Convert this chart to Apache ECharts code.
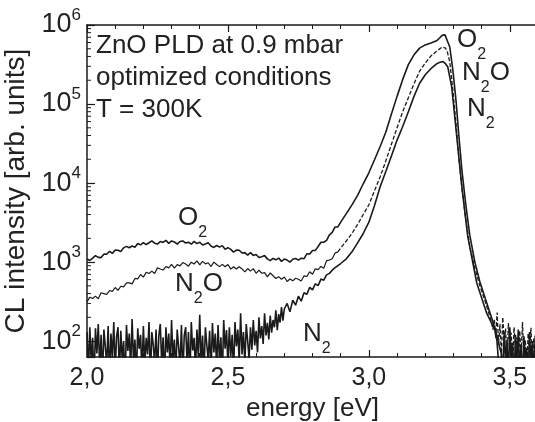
<!DOCTYPE html>
<html><head><meta charset="utf-8">
<script src="https://cdn.jsdelivr.net/npm/echarts@6/dist/echarts.min.js"></script>
<style>html,body{margin:0;padding:0;background:#fff}#c{width:535px;height:422px}</style>
</head><body><div id="c"></div>
<script>
// ---------------- data ----------------
const xTicks = [2.0, 2.5, 3.0, 3.5];
const yDecades = [100, 1000, 10000, 100000, 1000000];

// O2 : noisy low-energy part, 2.00 .. 2.89 every 0.01 eV
const o2LowStart = 2.00, o2LowStep = 0.01;
const o2Low = [
 1092,1048,1121,1208,1147,1140,1260,1257,1370,1286,
 1421,1415,1363,1515,1581,1519,1596,1546,1722,1653,
 1768,1668,1757,1860,1735,1691,1824,1776,1888,1728,
 1854,1798,1686,1824,1853,1740,1783,1685,1829,1713,
 1784,1644,1692,1754,1602,1534,1622,1549,1617,1450,
 1524,1450,1335,1418,1414,1303,1318,1229,1318,1216,
 1248,1145,1172,1208,1098,1045,1112,1069,1124,1022,
 1092,1060,998,1086,1113,1058,1121,1104,1271,1267,
 1404,1407,1576,1781,1784,1881,2213,2376,2783,2784];
const o2HighE = [2.90,2.92,2.94,2.96,2.98,3.00,3.02,3.04,3.06,3.08,3.10,3.12,3.14,3.16,3.18,3.20,3.22,3.24,3.25,3.26,3.27,3.277,3.287,3.298,3.309,3.319,3.330,3.344,3.358,3.376,3.394,3.415,3.436,3.454,3.465];
const o2HighI = [3200,4100,5300,7000,9800,13500,19700,29000,44000,75000,125000,205000,315000,420000,510000,560000,590000,630000,680000,740000,750000,720000,527000,269000,112000,40700,14600,5250,2190,1000,560,330,195,119,80];
const o2TailStart = 3.47, tailStep = 0.005;
const o2Tail = [70,40,130,55,105,35,150,62,95,30,120,48,140,42,88,33,115,58,82,36,130,50,100,35,118,52,80];

// N2O
const n2oLowStart = 2.00, n2oLowStep = 0.01;
const n2oLow = [
 314,360,347,371,344,409,399,391,437,426,
 477,439,495,487,546,545,530,621,613,698,
 646,744,718,769,716,845,818,794,879,845,
 933,841,928,897,987,947,888,998,946,1036,
 922,1023,950,981,879,1000,934,876,936,872,
 933,815,872,817,872,820,753,829,769,826,
 722,790,723,736,651,730,672,621,655,608,
 647,569,612,579,625,607,577,671,657,754,
 703,822,802,881,837,1043,1061,1104,1300,1348];
const n2oHighE = [2.90,2.92,2.94,2.96,2.98,3.00,3.02,3.04,3.06,3.08,3.10,3.12,3.14,3.16,3.18,3.20,3.22,3.24,3.25,3.26,3.27,3.277,3.287,3.298,3.309,3.319,3.330,3.344,3.358,3.376,3.394,3.415,3.436];
const n2oHighI = [1500,1850,2300,3000,4000,5300,8000,12000,19000,31000,50000,80000,120000,180000,260000,330000,405000,465000,495000,525000,515000,480000,340000,150000,57000,21000,8700,3400,1580,830,500,300,170];
const n2oTailStart = 3.44;
const n2oTail = [140,190,110,230,90,165,65,200,100,145,55,170,78,128,50,150,82,112,45,135,68,175,58,104,40,125,72,148,50,108,62,118,55];

// N2 : very noisy low-energy part, 2.000 .. 2.700 every 0.005 eV
const n2LowStart = 2.00, n2LowStep = 0.005;
const n2Low = [
 130,40,150,55,110,30,145,70,165,45,
 120,35,140,85,50,155,33,125,60,175,
 42,115,150,38,135,58,100,28,160,75,
 125,46,190,55,105,36,145,80,120,40,
 155,50,110,68,175,34,130,90,52,140,
 38,120,165,52,112,32,150,72,125,44,
 185,58,105,40,140,85,48,160,36,118,
 150,54,130,34,175,76,110,43,140,62,
 215,50,118,38,150,90,58,135,40,170,
 72,125,45,160,54,112,34,185,80,138,
 50,150,64,120,40,175,86,140,55,225,
 68,130,52,165,100,60,150,78,185,88,
 135,72,200,108,155,92,225,118,170,105,
 210,128,185,150,245,138,220,172,270,182,
 255];
const n2MidE = [2.71,2.72,2.73,2.74,2.75,2.76,2.77,2.78,2.79,2.80,2.81,2.82,2.83,2.84,2.85,2.86,2.87,2.88,2.89,2.90];
const n2MidI = [300,235,330,285,370,320,410,390,480,445,530,505,610,590,690,720,790,850,900,960];
const n2HighE = [2.92,2.94,2.96,2.98,3.00,3.02,3.04,3.06,3.08,3.10,3.12,3.14,3.16,3.18,3.20,3.22,3.24,3.25,3.262,3.27,3.280,3.294,3.312,3.330,3.351,3.383,3.418,3.447,3.454,3.462];
const n2HighI = [1100,1350,1750,2300,3200,5200,9000,14000,22000,35000,52000,80000,125000,183000,235000,280000,322000,335000,345000,330000,294000,164000,38000,8900,2080,540,226,138,103,45];

const annotationLines = ['ZnO PLD at 0.9 mbar', 'optimized conditions', 'T = 300K'];
const xName = 'energy [eV]';
const yName = 'CL intensity [arb. units]';

// ---------------- build ----------------
function onGrid(start, step, vals) { return vals.map((v, i) => [+(start + i * step).toFixed(3), v]); }
function pairs(es, vs) { return es.map((e, i) => [e, vs[i]]); }

const o2Data = onGrid(o2LowStart, o2LowStep, o2Low).concat(pairs(o2HighE, o2HighI), onGrid(o2TailStart, tailStep, o2Tail));
const n2oLowData = onGrid(n2oLowStart, n2oLowStep, n2oLow);
const n2oHighData = [n2oLowData[n2oLowData.length - 1]].concat(pairs(n2oHighE, n2oHighI), onGrid(n2oTailStart, tailStep, n2oTail));
const n2Data = onGrid(n2LowStart, n2LowStep, n2Low).concat(pairs(n2MidE, n2MidI), pairs(n2HighE, n2HighI));

const yMin = 63, yMax = 1000000, xMin = 2.0, xMax = 3.6;
const minorY = [];
for (let d = 1; d < 6; d++) for (let k = 2; k <= 9; k++) { const v = k * Math.pow(10, d); if (v > yMin && v < yMax) minorY.push([xMin, v]); }

const FONT = '"Liberation Sans", Arial, Helvetica, sans-serif';
const INK = '#1a1a1a', TXT = '#222';

function label(x, y, parts) {
  return { type: 'text', x: x, y: y, z: 100,
    style: { text: parts, verticalAlign: 'middle', align: 'left', fill: TXT, fontFamily: FONT,
      rich: { a: { fontSize: 26, fontFamily: FONT, fill: TXT, color: TXT },
              s: { fontSize: 16, fontFamily: FONT, fill: TXT, color: TXT, padding: [30, 0, 0, 0] } } } };
}

const chart = echarts.init(document.getElementById('c'), null, { renderer: 'canvas' });
const axisLineStyle = { color: INK, width: 1.5 };
chart.setOption({
  animation: false,
  backgroundColor: '#fff',
  grid: { left: 87, top: 25, right: -3, bottom: 65, containLabel: false, outerBoundsMode: 'none' },
  xAxis: [{
    type: 'value', min: xMin, max: xMax, interval: 0.5, position: 'bottom',
    axisLine: { show: true, onZero: false, lineStyle: axisLineStyle },
    axisTick: { show: true, inside: true, length: 7, lineStyle: { color: INK, width: 1.2 } },
    minorTick: { show: true, splitNumber: 5, length: 4, lineStyle: { color: INK, width: 1 } },
    splitLine: { show: false },
    axisLabel: { show: true, margin: 9, fontSize: 25, color: TXT, fontFamily: FONT, showMaxLabel: false,
      formatter: v => xTicks.some(t => Math.abs(t - v) < 1e-6) ? v.toFixed(1).replace('.', ',') : '' },
    name: xName, nameLocation: 'middle', nameGap: 32,
    nameTextStyle: { fontSize: 26, color: TXT, fontFamily: FONT }
  }, {
    type: 'value', min: xMin, max: xMax, interval: 0.5, position: 'top',
    axisLine: { show: true, onZero: false, lineStyle: axisLineStyle },
    axisTick: { show: true, inside: true, length: 7, lineStyle: { color: INK, width: 1.2 } },
    minorTick: { show: true, splitNumber: 5, length: 4, lineStyle: { color: INK, width: 1 } },
    splitLine: { show: false }, axisLabel: { show: false }
  }],
  yAxis: [{
    type: 'log', logBase: 10, min: yMin, max: yMax,
    axisLine: { show: true, onZero: false, lineStyle: axisLineStyle },
    axisTick: { show: true, inside: true, length: 8, lineStyle: { color: INK, width: 1.2 } },
    minorTick: { show: false }, splitLine: { show: false },
    axisLabel: { show: true, margin: 6, fontFamily: FONT, color: TXT,
      formatter: v => {
        const l = Math.log10(v), e = Math.round(l);
        if (Math.abs(l - e) > 0.02 || !yDecades.some(d => Math.abs(Math.log10(d) - e) < 1e-6)) return '';
        return '{b|10}{s|' + e + '}';
      },
      rich: { b: { fontSize: 27, fontFamily: FONT, color: TXT },
              s: { fontSize: 17, fontFamily: FONT, color: TXT, padding: [0, 0, 20, 0] } } },
    name: yName, nameLocation: 'middle', nameGap: 48, nameRotate: 90,
    nameTextStyle: { fontSize: 28, color: TXT, fontFamily: FONT }
  }],
  series: [
    { type: 'custom', name: 'minorY', silent: true, clip: false, z: 5,
      renderItem: (params, api) => {
        const p = api.coord([api.value(0), api.value(1)]);
        return { type: 'line', shape: { x1: p[0], y1: p[1], x2: p[0] + 4, y2: p[1] }, style: { stroke: INK, lineWidth: 1 } };
      },
      data: minorY },
    { type: 'line', name: 'O2', data: o2Data, symbol: 'none', showSymbol: false, clip: true,
      lineStyle: { color: INK, width: 1.6 }, z: 3 },
    { type: 'line', name: 'N2O low', data: n2oLowData, symbol: 'none', showSymbol: false, clip: true,
      lineStyle: { color: INK, width: 1.2 }, z: 3 },
    { type: 'line', name: 'N2O', data: n2oHighData, symbol: 'none', showSymbol: false, clip: true,
      lineStyle: { color: INK, width: 1.3, type: [4, 2] }, z: 3 },
    { type: 'line', name: 'N2', data: n2Data, symbol: 'none', showSymbol: false, clip: true,
      lineStyle: { color: INK, width: 1.6 }, z: 3 }
  ],
  graphic: [
    { type: 'text', x: 96, y: 30, z: 100,
      style: { text: annotationLines.join('\n'), fontSize: 26, lineHeight: 32, fontFamily: FONT, fill: TXT, verticalAlign: 'top', align: 'left' } },
    label(457, 40, '{a|O}{s|2}'),
    label(462, 73, '{a|N}{s|2}{a|O}'),
    label(467, 109, '{a|N}{s|2}'),
    label(178, 218, '{a|O}{s|2}'),
    label(175, 284, '{a|N}{s|2}{a|O}'),
    label(303, 334, '{a|N}{s|2}')
  ]
});
</script>
</body></html>
